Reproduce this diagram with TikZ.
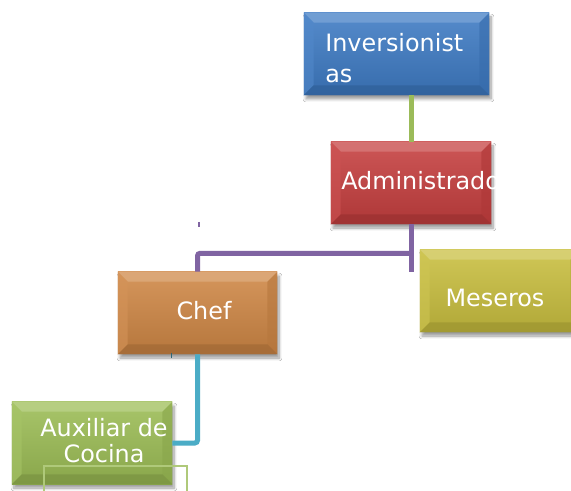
\documentclass[tikz,border=0pt]{standalone}
\usepackage{fontspec}
\setmainfont{DejaVu Sans}
\usetikzlibrary{calc,shadows.blur}

\definecolor{cBlue}{HTML}{3E7BC4}
\definecolor{cRed}{HTML}{C63F3F}
\definecolor{cYellow}{HTML}{C9BF3F}
\definecolor{cOrange}{HTML}{CF8745}
\definecolor{cGreen}{HTML}{9CBD55}
\definecolor{lGreen}{HTML}{9BBB59}
\definecolor{lPurple}{HTML}{8064A2}
\definecolor{lTeal}{HTML}{4BACC6}

\tikzset{
  orgbox/.style 2 args={rectangle, inner sep=0pt, minimum width=#1*0.75pt,
    minimum height=61.5pt, top color=#2!88!white, bottom color=#2!88!black,
    blur shadow={shadow xshift=1.5pt, shadow yshift=-3pt, shadow blur steps=8, shadow opacity=40}},
  lbl/.style={text=white, font=\fontsize{17.9}{23.3}\selectfont, inner sep=0pt},
  link/.style={line width=3.75pt},
}

% bevel facets around a box
\newcommand{\bevelfacets}[2]{%
  \fill[#2!70!white, opacity=0.8] (#1.north west) -- (#1.north east) -- ($(#1.north east)+(-10,10)$) -- ($(#1.north west)+(10,10)$) -- cycle;
  \fill[#2!90!white, opacity=0.6] (#1.north west) -- ($(#1.north west)+(10,10)$) -- ($(#1.south west)+(10,-10)$) -- (#1.south west) -- cycle;
  \fill[#2!88!black, opacity=0.6] (#1.north east) -- ($(#1.north east)+(-10,10)$) -- ($(#1.south east)+(-10,-10)$) -- (#1.south east) -- cycle;
  \fill[#2!78!black, opacity=0.7] (#1.south west) -- (#1.south east) -- ($(#1.south east)+(-10,-10)$) -- ($(#1.south west)+(10,-10)$) -- cycle;
}

\begin{document}
\begin{tikzpicture}[x=0.75pt, y=-0.75pt]
\clip (0,0) rectangle (571,491);
\fill[white] (0,0) rectangle (571,491);

% boxes
\node[orgbox={185}{cBlue}] (inv) at (396.5,54) {};
\bevelfacets{inv}{cBlue}
\node[orgbox={160}{cRed}] (adm) at (411,183) {};
\bevelfacets{adm}{cRed}
\node[orgbox={160}{cYellow}] (mes) at (500,291) {};
\bevelfacets{mes}{cYellow}
\node[orgbox={159}{cOrange}] (chef) at (197.5,313) {};
\bevelfacets{chef}{cOrange}
\node[orgbox={160}{cGreen}] (aux) at (92,443) {};
\bevelfacets{aux}{cGreen}

% connectors
\draw[link, lGreen] (inv.south -| adm.north) -- (adm.north);
\draw[link, lPurple] (adm.south) -- ++(0,48);
\draw[link, lPurple, rounded corners=2pt] ($(adm.south)+(0,29)$) -| (chef.north);
\draw[link, lTeal, rounded corners=2pt] (chef.south) |- (aux.east);

% small marks
\draw[lPurple, line width=1pt] (199,222) -- (199,227);
\draw[lTeal!60!black, line width=0.8pt] (171.5,353) -- (171.5,358);

% outline frame below
\draw[lGreen!80!white, line width=1.5pt] (44,500) -- (44,466) -- (187,466) -- (187,500);

% labels
\node[lbl, anchor=north west, align=left] (tinv) at (325,33) {Inversionist\\as};
\begin{scope}
  \clip (adm.north west) rectangle ($(adm.south east)+(4,0)$);
  \node[lbl, anchor=west] (tadm) at (341,181) {Administrador};
\end{scope}
\node[lbl] (tmes) at (495,298) {Meseros};
\node[lbl] (tchef) at (204,311) {Chef};
\node[lbl, align=center, font=\fontsize{17.9}{19.5}\selectfont] (taux) at (104,441) {Auxiliar de\\Cocina};
\end{tikzpicture}
\end{document}
